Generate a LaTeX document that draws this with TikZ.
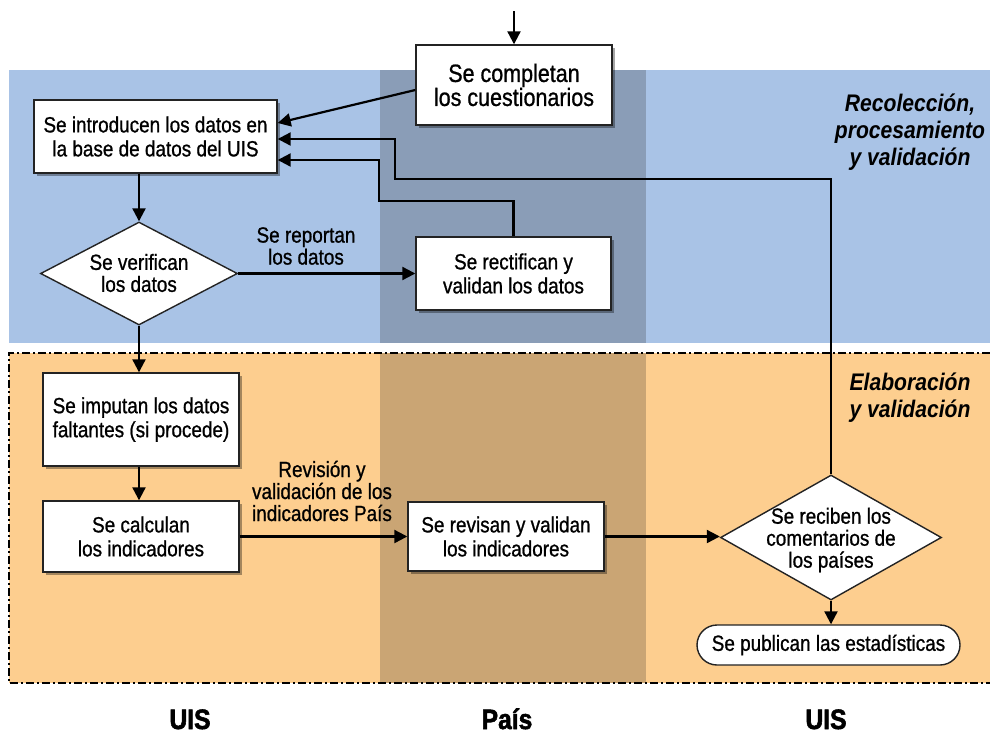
\documentclass[tikz,border=0pt]{standalone}
\usepackage{fontspec}
\setmainfont{Liberation Sans}[FakeStretch=0.86]
\newfontfamily\bodyf{Liberation Sans}[FakeStretch=0.86,FakeBold=0.9]
\newfontfamily\labf{Liberation Sans}[FakeStretch=0.88,BoldFeatures={FakeBold=0.8}]
\newfontfamily\heavyf{Liberation Sans}[FakeStretch=0.88,BoldFeatures={FakeBold=2}]
\usetikzlibrary{arrows.meta,shapes.geometric,shadows}
\definecolor{bandblue}{RGB}{169,195,230}
\definecolor{bandbluedark}{RGB}{138,157,183}
\definecolor{bandorange}{RGB}{253,206,143}
\definecolor{bandorangedark}{RGB}{202,165,116}
\definecolor{edge}{RGB}{35,35,35}
\tikzset{
  box/.style={draw=edge, line width=1.4pt, fill=white, inner sep=0pt, align=center,
    font=\bodyf\fontsize{22}{24}\selectfont,
    drop shadow={shadow xshift=3pt, shadow yshift=-3pt, opacity=0.35, fill=black}},
  dia/.style={diamond, draw=edge, line width=1.4pt, fill=white, inner sep=0pt},
  dtext/.style={align=center, inner sep=0pt, font=\bodyf\fontsize{22}{22}\selectfont},
  lbl/.style={align=center, inner sep=0pt, font=\bodyf\fontsize{22}{22}\selectfont},
  phase/.style={align=center, inner sep=0pt, font=\labf\bfseries\itshape\fontsize{24}{27}\selectfont},
  actor/.style={inner sep=0pt, anchor=base, font=\heavyf\bfseries\fontsize{28}{30}\selectfont},
  arr/.style={line width=2.2pt, -{Triangle[length=13pt,width=13pt]}},
  border/.style={line width=1.6pt, dash pattern=on 8pt off 3pt on 2pt off 3pt}
}
\begin{document}
\begin{tikzpicture}[x=1pt,y=-1pt]
\useasboundingbox (0,0) rectangle (990,734);
% bands
\fill[bandblue] (9,70) rectangle (990,343);
\fill[bandbluedark] (380,70) rectangle (646,343);
\fill[bandorange] (9,353) rectangle (990,683);
\fill[bandorangedark] (380,353) rectangle (646,683);
\draw[border] (990,353) -- (9,353) -- (9,683) -- (990,683);

% phase labels
\node[phase] (ph1) at (910,132) {Recolección,\\procesamiento\\y validación};
\node[phase] (ph2) at (910,398) {Elaboración\\y validación};

% actors
\node[actor] (a1) at (190,729) {UIS};
\node[actor] (a2) at (507,729) {País};
\node[actor] (a3) at (826,729) {UIS};

% nodes
\coordinate (start) at (514,11);
\node[box, minimum width=196pt, minimum height=80pt, font=\bodyf\fontsize{25}{24}\selectfont] (cuest) at (514,85) {Se completan\\los cuestionarios};
\node[box, minimum width=243pt, minimum height=73pt] (intro) at (155.5,136.5) {Se introducen los datos en\\la base de datos del UIS};
\node[dia, minimum width=197pt, minimum height=103pt] (d1) at (139,273.5) {};
\node[dtext] (d1t) at (139,273) {Se verifican\\los datos};
\node[box, minimum width=195pt, minimum height=73pt] (rect) at (513.5,273.5) {Se rectifican y\\validan los datos};
\node[box, minimum width=196pt, minimum height=93pt] (imput) at (141,419.5) {Se imputan los datos\\faltantes (si procede)};
\node[box, minimum width=196pt, minimum height=71pt] (calc) at (141,536.5) {Se calculan\\los indicadores};
\node[box, minimum width=196pt, minimum height=69pt] (rev) at (506,536.5) {Se revisan y validan\\los indicadores};
\node[dia, minimum width=221pt, minimum height=125pt] (d2) at (831,537.5) {};
\node[dtext] (d2t) at (831,540) {Se reciben los\\comentarios de\\los países};
\node[draw=edge, line width=1.4pt, fill=white, rounded corners=20pt, minimum width=263pt, minimum height=40pt, inner sep=0pt, font=\bodyf\fontsize{22}{24}\selectfont] (pub) at (828.5,645) {Se publican las estadísticas};

% edge labels
\node[lbl] (l1) at (306,246) {Se reportan\\los datos};
\node[lbl] (l2) at (322,491) {Revisión y\\validación de los\\indicadores País};

% connectors
\draw[arr] (start) -- (cuest.north);
\draw[arr] (cuest.west |- 0,90) -- (intro.east |- 0,123);
\draw[arr] (d2.north) |- (395,179) |- (intro.east |- 0,139);
\draw[arr] (rect.north) |- (379,201) |- (intro.east |- 0,160);
\draw[arr] (intro.south -| d1.north) -- (d1.north);
\draw[arr] (d1.east) -- (d1.east -| rect.west);
\draw[arr] (d1.south) -- (d1.south |- imput.north);
\draw[arr] (imput.south -| d1.south) -- (d1.south |- calc.north);
\draw[arr] (calc.east) -- (calc.east -| rev.west);
\draw[arr] (rev.east) -- (rev.east -| d2.west);
\draw[arr] (d2.south) -- (d2.south |- pub.north);
\end{tikzpicture}
\end{document}
